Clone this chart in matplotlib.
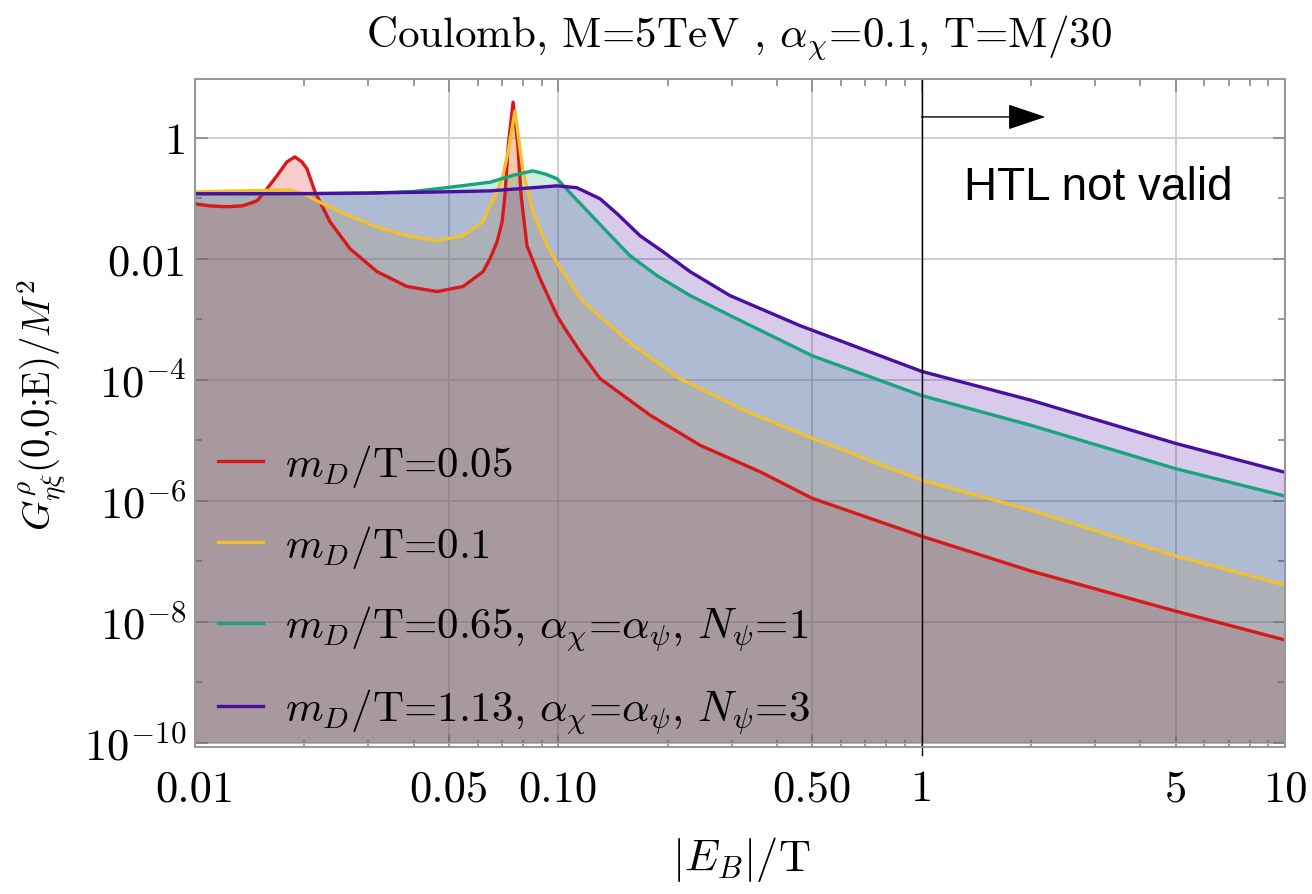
import numpy as np
import matplotlib
matplotlib.use("Agg")
import matplotlib.pyplot as plt
from matplotlib.ticker import FixedLocator, FixedFormatter, NullFormatter

# values (x = |E_B|/T, y = G/M^2)
red_x = [0.0100, 0.0110, 0.01225, 0.01355, 0.01482, 0.01578, 0.01681, 0.0179, 0.01884, 0.0197,
         0.02034, 0.0214, 0.02353, 0.02671, 0.0317, 0.03833, 0.04636, 0.05469, 0.06207, 0.0649,
         0.0678, 0.0700, 0.0713, 0.0728, 0.0751, 0.0774, 0.0790, 0.0820, 0.0891, 0.0992,
         0.1043, 0.115, 0.1303, 0.179, 0.2455, 0.36, 0.5, 1.0, 2.0, 5.0, 10.0]
red_y = [0.0815, 0.075, 0.0727, 0.0755, 0.091, 0.144, 0.236, 0.40, 0.486, 0.40,
         0.308, 0.128, 0.0411, 0.0147, 0.00615, 0.00349, 0.00288, 0.00349, 0.00615, 0.0101,
         0.019, 0.04, 0.11, 0.74, 3.9, 0.74, 0.11, 0.0165, 0.0047, 0.00115,
         7.05e-4, 2.9e-4, 1.05e-4, 2.6e-5, 8.3e-6, 3.0e-6, 1.1e-6, 2.6e-7, 6.9e-8, 1.5e-8, 5.0e-9]

yel_x = [0.01, 0.015, 0.01826, 0.0200, 0.02167, 0.02506, 0.0309, 0.0383, 0.04636, 0.05469,
         0.06207, 0.0649, 0.0683, 0.0705, 0.0728, 0.0760, 0.0800, 0.0851, 0.0931, 0.1011,
         0.1169, 0.1303, 0.161, 0.216, 0.33, 0.5, 1.0, 2.0, 5.0, 10.0]
yel_y = [0.128, 0.135, 0.138, 0.118, 0.091, 0.0601, 0.0354, 0.0241, 0.0200, 0.0241,
         0.0411, 0.0755, 0.14, 0.25, 0.6, 2.79, 0.275, 0.060, 0.0165, 0.0072,
         0.00197, 1.11e-3, 3.7e-4, 1.05e-4, 3.0e-5, 1.08e-5, 2.19e-6, 7.0e-7, 1.22e-7, 4.07e-8]

teal_x = [0.01, 0.02, 0.03, 0.04, 0.0463, 0.0549, 0.0649, 0.075, 0.0851, 0.0925,
          0.0992, 0.1097, 0.1222, 0.1361, 0.1574, 0.1870, 0.2305, 0.2969, 0.5, 1.0,
          2.0, 5.0, 10.0]
teal_y = [0.119, 0.119, 0.121, 0.130, 0.144, 0.163, 0.185, 0.24, 0.285, 0.25,
          0.211, 0.110, 0.0557, 0.0281, 0.0113, 0.00528, 0.00247, 0.00116, 2.5e-4, 5.5e-5,
          1.77e-5, 3.4e-6, 1.2e-6]

pur_x = [0.01, 0.02, 0.03, 0.045, 0.0649, 0.085, 0.0992, 0.1125, 0.1303, 0.1452,
         0.1679, 0.1941, 0.2305, 0.2969, 0.462, 1.0, 2.0, 5.0, 10.0]
pur_y = [0.119, 0.120, 0.123, 0.127, 0.133, 0.150, 0.161, 0.150, 0.0985, 0.0557,
         0.0241, 0.01315, 0.00615, 0.00247, 7.9e-4, 1.38e-4, 4.6e-5, 8.9e-6, 2.96e-6]

labels = [r'$m_D$/T=0.05',
          r'$m_D$/T=0.1',
          r'$m_D$/T=0.65, $\alpha_\chi$=$\alpha_\psi$, $N_\psi$=1',
          r'$m_D$/T=1.13, $\alpha_\chi$=$\alpha_\psi$, $N_\psi$=3']
colors = ['#d7191c', '#f0c030', '#19a47e', '#4a0ea0']

xticks = [0.01, 0.05, 0.1, 0.5, 1, 5, 10]
xticklabels = ['0.01', '0.05', '0.10', '0.50', '1', '5', '10']
yticks = [1, 1e-2, 1e-4, 1e-6, 1e-8, 1e-10]
yticklabels = ['1', '0.01', r'$10^{-4}$', r'$10^{-6}$', r'$10^{-8}$', r'$10^{-10}$']

plt.rcParams['font.family'] = 'cmr10'
plt.rcParams['mathtext.fontset'] = 'cm'
plt.rcParams['axes.formatter.use_mathtext'] = True

fig = plt.figure(figsize=(13.12, 8.95), dpi=100)
ax = fig.add_axes([0.1486, 0.1642, 0.8308, 0.7464])

ymin = 1e-10
series = [(red_x, red_y), (yel_x, yel_y), (teal_x, teal_y), (pur_x, pur_y)]
for (xs, ys), c, lab in zip(series, colors, labels):
    ax.fill_between(xs, ys, ymin, color=c, alpha=0.22, lw=0)
    ax.plot(xs, ys, color=c, lw=2.4, label=lab, solid_joinstyle='round')

ax.set_xscale('log')
ax.set_yscale('log')
ax.set_xlim(0.01, 10)
ax.set_ylim(8.5e-11, 9.4)

ax.xaxis.set_major_locator(FixedLocator(xticks))
ax.xaxis.set_major_formatter(FixedFormatter(xticklabels))
minx = [m * d for d in (0.01, 0.1, 1) for m in (2, 3, 4, 6, 7, 8, 9)]
ax.xaxis.set_minor_locator(FixedLocator(minx))
ax.xaxis.set_minor_formatter(NullFormatter())
ax.yaxis.set_major_locator(FixedLocator(yticks))
ax.yaxis.set_major_formatter(FixedFormatter(yticklabels))
ax.yaxis.set_minor_locator(FixedLocator([1e-1, 1e-3, 1e-5, 1e-7, 1e-9]))
ax.yaxis.set_minor_formatter(NullFormatter())

ax.tick_params(which='both', direction='in', top=True, right=True, color='#888888', width=1.2)
ax.tick_params(which='major', length=9, labelsize=32)
ax.tick_params(axis='x', which='major', pad=16)
ax.tick_params(axis='y', which='major', pad=6)
ax.tick_params(which='minor', length=5)
for s in ax.spines.values():
    s.set_color('#999999')
    s.set_linewidth(1.5)

ax.grid(which='major', color='#cccccc', lw=1.3)
ax.set_axisbelow(True)

# HTL validity marker
ax.axvline(1, ymin=-0.012, ymax=1, color='k', lw=1, clip_on=False)
ax.annotate('', xy=(2.19, 2.22), xytext=(1, 2.22),
            arrowprops=dict(arrowstyle='-|>,head_length=0.8,head_width=0.27',
                            mutation_scale=30, color='k', lw=1, shrinkA=0, shrinkB=0))
ax.text(3.06, 0.155, 'HTL not valid', family='Liberation Sans', fontsize=33,
        ha='center', va='center')

ax.legend(loc='center left', bbox_to_anchor=(0.021, 0.236), frameon=False, fontsize=31,
          handlelength=1.05, handletextpad=0.5, labelspacing=0.78, borderpad=0,
          borderaxespad=0)

fig.text(739 / 1312, 1 - 38 / 895, r'Coulomb, M=5TeV , $\alpha_\chi$=0.1, T=M/30',
         fontsize=31, ha='center', va='center')
fig.text(741 / 1312, 1 - 860 / 895, r'$|E_B|$/T', fontsize=32, ha='center', va='center')
fig.text(42 / 1312, 1 - 405 / 895, r'$G^{\rho}_{\eta\xi}$(0,0;E)/$M^2$', fontsize=28,
         rotation=90, ha='center', va='center')

fig.savefig('out.png', dpi=100)
